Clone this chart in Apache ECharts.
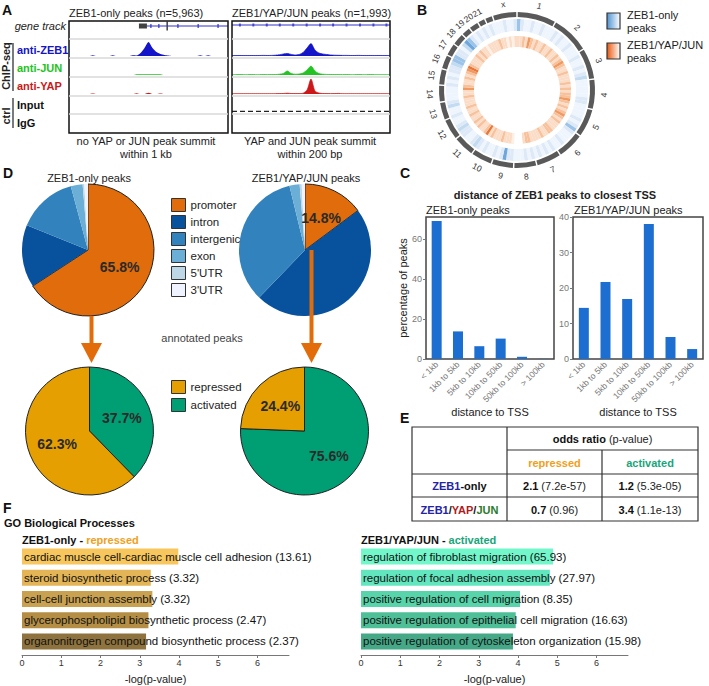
<!DOCTYPE html>
<html><head><meta charset="utf-8">
<script src="https://cdn.jsdelivr.net/npm/echarts@6/dist/echarts.min.js"></script>
<style>html,body{margin:0;padding:0;background:#fff}#c{width:709px;height:686px}</style>
</head><body><div id="c"></div>
<script>
// ================= DATA =================
// Panel A: genome-browser track signals (41 positions per window)
const trackNames = ['anti-ZEB1','anti-JUN','anti-YAP','Input','IgG'];
const zeb1OnlyZEB1 = [0,0,0,0,0,0,0.8,0,0,0,0,0.8,0,0,0,0,0.8,0.6,3,8,14,8,4,2,1,0.5,0,0,0,0,0,0,0,0.8,0,0.8,0,0,0,0,0];
const zeb1OnlyJUN  = [0,0,0,0,0,0,0,0,0,0,0,0,0,0,0,0,0,0.8,0.8,0.8,0.8,0.8,0.8,0.8,0,0,0,0,0,0,0,0,0,0,0,0,0,0,0,0,0];
const zeb1OnlyYAP  = [0,0,0,0,0,0,0.6,0,0,0,0,0,0,0,0,0,0,0.8,0,0,1.2,0,0,0.6,0,0,0,0,0,0,0,0,0,0,0,0,0,0,0,0,0];
const zeb1OnlyInput = [];
const zeb1OnlyIgG = [];
const tripleZEB1 = [0.4,0.4,0.5,0.4,0.4,0.5,0.4,0.5,0.6,0.5,0.6,0.8,1.2,2.0,2.5,1.6,1.0,1.5,3.5,8,12.4,6,3,2,1.5,1.0,0.8,0.7,0.6,0.6,0.5,0.5,0.6,0.5,0.4,0.5,0.4,0.5,0.4,0.4,0.4];
const tripleJUN  = [0.3,0.3,0.4,0.3,0.3,0.4,0.3,0.3,0.4,0.3,0.4,0.5,0.8,1.5,4,1.5,0.8,1.0,2,5,9,4,1.5,0.8,0.6,0.5,0.4,0.4,0.3,0.4,0.3,0.3,0.4,0.3,0.3,0.4,0.3,0.3,0.3,0.3,0.3];
const tripleYAP  = [0.3,0.3,0.3,0.3,0.3,0.3,0.3,0.3,0.3,0.3,0.3,0.3,0.4,0.5,0.8,0.5,0.4,0.4,0.8,4,15,3,1,0.5,0.4,0.3,0.4,0.6,0.3,0.3,0.3,0.3,0.3,0.3,0.3,0.3,0.3,0.3,0.3,0.3,0.3];
const tripleInput = [0.6,0.6,0.6,0.6,0.6,0.6,0.6,0.6,0.6,0.6,0.6,0.6,0.6,0.6,0.6,0.6,0.6,0.6,0.6,0.8,1.0,0.8,0.6,0.6,0.6,0.6,0.6,0.6,0.6,0.6,0.6,0.6,0.6,0.6,0.6,0.6,0.6,0.6,0.6,0.6,0.6];
const tripleIgG = [];
const gene1Body = [[19.6,1],[40,1]];
const gene1Exons = [[18.6,1]];
const gene1Marks = [[20.6,1],[22.6,1],[27.4,1],[32.5,1],[37.5,1]];
const gene1TSS = [[24.7,1]];
const gene2Body = [[0,1],[40,1]];
const gene2Marks = [[2,1],[5.4,1],[8.8,1],[12.1,1],[15.5,1],[18.9,1],[22.3,1],[25.6,1],[29,1],[32.4,1],[35.8,1],[39.1,1]];

// Panel B: circos
const chromNames = ['1','2','3','4','5','6','7','8','9','10','11','12','13','14','15','16','17','18','19','20','21','22','x'];
const chromLengthsMb = [249,243,198,191,181,171,159,146,141,136,135,134,115,107,103,90,81,78,59,63,48,51,155];
const zeb1OnlyDensity = [4,2,1,1,2,1,1,2,1,1, 1,2,1,2,1,1,2,1,1,1, 2,1,1,2,1,2,3,1,1,1, 1,1,2,2,1,1,1,1,2,1, 2,4,2,1,1,1,2,1,1,2, 1,2,1,2,1,2,1,2,1,1, 1,2,2,5,2,1,2,1,1,2, 1,2,3,2,1,1,2,2,3,2, 1,1,2,1,1,3,2,1,1,1, 1,2,1,2,1,2,2,3,4,4, 2,2,1,3,5,4,2,1,2,1, 2,1,2,1,1,1,2,1,1,2];
const zeb1YapJunDensity = [2,2,3,2,4,3,2,3,2,2, 3,2,2,3,2,2,3,2,3,4, 3,2,2,3,2,2,2,3,2,3, 2,3,3,4,3,2,3,2,3,4, 3,2,3,2,2,2,3,3,2,2, 3,2,2,2,2,3,3,2,0,0, 0,1,2,2,2,3,2,2,2,3, 2,5,3,2,2,3,2,3,2,2, 3,2,2,3,2,2,2,3,2,2, 4,3,2,2,3,2,3,4,5,3, 2,2,2,3,2,3,2,2,1,2, 2,2,2,3,2,2,1,2,1,2];

// Panel C: distance to TSS (% of peaks)
const tssCategories = ['< 1kb','1kb to 5kb','5kb to 10kb','10kb to 50kb','50kb to 100kb','> 100kb'];
const tssZeb1Only = [69.0, 13.8, 6.4, 10.2, 1.1, 0.1];
const tssZeb1YapJun = [14.4, 21.7, 16.9, 38.0, 6.2, 2.8];

// Panel D: annotation pies
const annotCategories = ['promoter','intron','intergenic','exon',"5'UTR","3'UTR"];
const annotZeb1Only = [65.8, 15.3, 14.7, 2.9, 0.4, 0.9];
const annotZeb1YapJun = [14.8, 47.4, 34.0, 2.5, 0.5, 0.8];
const regCategories = ['activated','repressed'];
const regZeb1Only = [37.7, 62.3];
const regZeb1YapJun = [75.6, 24.4];

// Panel E: odds ratios
const oddsRatio = [[2.1, 1.2],[0.7, 3.4]];
const oddsPValue = [['7.2e-57','5.3e-05'],['0.96','1.1e-13']];

// Panel F: GO terms
const goRepTerms = ['cardiac muscle cell-cardiac muscle cell adhesion','steroid biosynthetic process','cell-cell junction assembly','glycerophospholipid biosynthetic process','organonitrogen compound biosynthetic process'];
const goRepLogP = [3.98, 3.28, 3.32, 3.22, 3.16];
const goRepEnrich = ['13.61','3.32','3.32','2.47','2.37'];
const goActTerms = ['regulation of fibroblast migration','regulation of focal adhesion assembly','positive regulation of cell migration','positive regulation of epithelial cell migration','positive regulation of cytoskeleton organization'];
const goActLogP = [4.89, 4.81, 4.05, 3.94, 3.87];
const goActEnrich = ['65.93','27.97','8.35','16.63','15.98'];

// ================= STYLE / LAYOUT =================
const FF = 'Liberation Sans, Arial, Helvetica, sans-serif';
const trackColors = ['#1414c8','#22c322','#cc1818','#111111','#111111'];
const annotColors = ['#e06c0b','#08519c','#3182bd','#6baed6','#bdd7e7','#eff3ff'];
const regColors = {activated:'#009e73', repressed:'#e69f00'};
const blueShades = ['#ffffff','#eef5fc','#dde9f7','#c3dbf1','#9cc3e8','#6fa7dc'];
const orangeShades = ['#ffffff','#fdf0e6','#fbdcc6','#f7c19c','#f09a62','#e8783a'];
const goRepColors = ['#f7c65c','#e3b556','#c9a251','#b48e45','#8e733e'];
const goActColors = ['#72f7cb','#62e6be','#57d4a9','#4ebf97','#45a887'];

const grids=[], xAxes=[], yAxes=[], series=[], graphics=[];
function addGrid(g,x,y){ grids.push(Object.assign({outerBoundsMode:'none', containLabel:false}, g)); const i=grids.length-1; xAxes.push(Object.assign({gridIndex:i},x)); yAxes.push(Object.assign({gridIndex:i},y)); return i; }
function T(text,x,y,o){ o=o||{}; const st={text:text, x:0, y:0, fill:o.color||'#222', fontSize:o.size||11, fontWeight:o.weight||'normal', fontStyle:o.style||'normal', fontFamily:FF, align:o.align||'left', textAlign:o.align||'left', verticalAlign:'middle', textVerticalAlign:'middle'}; if(o.rich) st.rich=o.rich; return {type:'text', x:x, y:y, rotation:o.rot||0, z:100, silent:true, style:st}; }
function L(x1,y1,x2,y2,c,w){ return {type:'line', z:100, silent:true, shape:{x1:x1,y1:y1,x2:x2,y2:y2}, style:{stroke:c||'#333', lineWidth:w||1}}; }
function R(x,y,w,h,fill,stroke,lw){ return {type:'rect', z:90, silent:true, shape:{x:x,y:y,width:w,height:h}, style:{fill:fill||'none', stroke:stroke||'none', lineWidth:lw||1}}; }

// ---------- Panel A ----------
const boxes = [
  {left:69, width:159, baseline:false, tracks:[zeb1OnlyZEB1, zeb1OnlyJUN, zeb1OnlyYAP, zeb1OnlyInput, zeb1OnlyIgG]},
  {left:232, width:158, baseline:true, tracks:[tripleZEB1, tripleJUN, tripleYAP, tripleInput, tripleIgG]}
];
const rowTop=[39,58,77,96,114], rowBot=[58,77,96,114,133];
boxes.forEach(function(b){
  b.tracks.forEach(function(arr,ti){
    if(!arr.length) return;
    const gi=addGrid({left:b.left, width:b.width, top:rowTop[ti]+1, height:rowBot[ti]-rowTop[ti]-3},
      {type:'value', min:0, max:40, show:false}, {type:'value', min:0, max:16, show:false});
    const d=arr.map(function(v,i){return [i,v];});
    if(ti===3){
      series.push({type:'line', xAxisIndex:gi, yAxisIndex:gi, data:d, showSymbol:false, silent:true, lineStyle:{color:'#222', width:1.3, type:[5,3]}});
    } else {
      series.push({type:'line', xAxisIndex:gi, yAxisIndex:gi, data:d, showSymbol:false, silent:true, smooth:0.25,
        lineStyle:{width:b.baseline?0.7:0, color:trackColors[ti], opacity:b.baseline?1:0}, areaStyle:{color:trackColors[ti], opacity:1}});
    }
  });
});
// gene tracks
(function(){
  const g1=addGrid({left:69, width:159, top:21, height:10},{type:'value',min:0,max:40,show:false},{type:'value',min:0,max:2,show:false});
  series.push({type:'line', xAxisIndex:g1, yAxisIndex:g1, data:gene1Body, showSymbol:false, silent:true, lineStyle:{color:'#3030c8', width:1}});
  series.push({type:'scatter', xAxisIndex:g1, yAxisIndex:g1, data:gene1Exons, symbol:'rect', symbolSize:[8,5], silent:true, itemStyle:{color:'#111'}});
  series.push({type:'scatter', xAxisIndex:g1, yAxisIndex:g1, data:gene1Marks, symbol:'rect', symbolSize:[1.5,4], silent:true, itemStyle:{color:'#3030d0'}});
  series.push({type:'scatter', xAxisIndex:g1, yAxisIndex:g1, data:gene1TSS, symbol:'rect', symbolSize:[1.5,9], silent:true, itemStyle:{color:'#111'}});
  const g2=addGrid({left:232, width:158, top:20, height:10},{type:'value',min:0,max:40,show:false},{type:'value',min:0,max:2,show:false});
  series.push({type:'line', xAxisIndex:g2, yAxisIndex:g2, data:gene2Body, showSymbol:false, silent:true, lineStyle:{color:'#3030c8', width:1}});
  series.push({type:'scatter', xAxisIndex:g2, yAxisIndex:g2, data:gene2Marks, symbol:'rect', symbolSize:[2,3], silent:true, itemStyle:{color:'#3030d0'}});
})();
graphics.push(T('A',2,10,{size:14,weight:'bold',color:'#111'}));
graphics.push(T('ZEB1-only peaks (n=5,963)',69,13,{}));
graphics.push(T('ZEB1/YAP/JUN peaks (n=1,993)',232,13,{}));
rowTop.forEach(function(y){ graphics.push(L(69,y,228,y,'#d9d9d9',1.5)); graphics.push(L(232,y,390,y,'#d9d9d9',1.5)); });
graphics.push(R(69,21,159,112,'none','#111',1.5));
graphics.push(R(232,21,158,112,'none','#111',1.5));
graphics.push(T('gene track',66,26,{style:'italic',align:'right'}));
const trackLabelY=[50,68,86,105,123];
trackNames.forEach(function(n,i){ graphics.push(T(n,17,trackLabelY[i],{weight:'bold',color:trackColors[i]})); });
graphics.push(T('ChIP-seq',6,66,{weight:'bold',align:'center',rot:Math.PI/2}));
graphics.push(L(13,43,13,91,'#222',1.2));
graphics.push(T('ctrl',6,116,{weight:'bold',align:'center',rot:Math.PI/2}));
graphics.push(L(13,98,13,128,'#222',1.2));
graphics.push(T('no YAP or JUN peak summit',146,141,{align:'center'}));
graphics.push(T('within 1 kb',146,154,{align:'center'}));
graphics.push(T('YAP and JUN peak summit',310,141,{align:'center'}));
graphics.push(T('within 200 bp',310,154,{align:'center'}));

// ---------- Panel B ----------
const bins = zeb1OnlyDensity.map(function(_,i){return i;});
const polarSeriesBase = {type:'bar', coordinateSystem:'polar', stack:'circos', silent:true, barCategoryGap:'0%'};
series.push(Object.assign({}, polarSeriesBase, {data:bins.map(function(){return 43;}), itemStyle:{color:'rgba(0,0,0,0)'}}));
series.push(Object.assign({}, polarSeriesBase, {name:'ZEB1/YAP/JUN peaks', data:zeb1YapJunDensity.map(function(v){return {value:11, itemStyle:{color:orangeShades[v]}};})}));
series.push(Object.assign({}, polarSeriesBase, {data:bins.map(function(){return 5;}), itemStyle:{color:'rgba(0,0,0,0)'}}));
series.push(Object.assign({}, polarSeriesBase, {name:'ZEB1-only peaks', data:zeb1OnlyDensity.map(function(v){return {value:12, itemStyle:{color:blueShades[v]}};})}));
series.push({type:'pie', center:[517,90], radius:[73,78], startAngle:90, clockwise:true, padAngle:1.1, silent:true, label:{show:false}, labelLine:{show:false}, emphasis:{disabled:true},
  data:chromNames.map(function(n,i){return {name:'chr'+n, value:chromLengthsMb[i]};}), itemStyle:{color:'#595959', borderWidth:0}});
series.push({type:'pie', center:[517,90], radius:[77,91], startAngle:90, clockwise:true, silent:true, labelLine:{show:false}, emphasis:{disabled:true},
  label:{show:true, position:'inside', rotate:'tangential', fontSize:8.5, color:'#333', fontFamily:FF, formatter:'{b}'},
  data:chromNames.map(function(n,i){return {name:n, value:chromLengthsMb[i]};}), itemStyle:{color:'rgba(0,0,0,0)', borderWidth:0}});
graphics.push(T('B',417,10,{size:14,weight:'bold',color:'#111'}));
graphics.push({type:'rect', z:100, silent:true, shape:{x:607,y:13,width:13,height:16}, style:{fill:new echarts.graphic.LinearGradient(0,0,1,0,[{offset:0,color:'#4f93d2'},{offset:1,color:'#ffffff'}]), stroke:'#333', lineWidth:1.2}});
graphics.push({type:'rect', z:100, silent:true, shape:{x:607,y:43,width:13,height:16}, style:{fill:new echarts.graphic.LinearGradient(0,0,1,0,[{offset:0,color:'#e8580e'},{offset:1,color:'#ffffff'}]), stroke:'#333', lineWidth:1.2}});
graphics.push(T('ZEB1-only',627,15,{}));
graphics.push(T('peaks',627,28,{}));
graphics.push(T('ZEB1/YAP/JUN',627,45,{}));
graphics.push(T('peaks',627,58,{}));

// ---------- Panel C ----------
function tssGrid(left,width,max,step,data,showName){
  const ticks=[]; for(let v=0; v<=max; v+=step) ticks.push(v);
  const gi=addGrid({left:left, width:width, top:217, height:142, show:true, borderColor:'#444', borderWidth:1.5, backgroundColor:'rgba(0,0,0,0)'},
    {type:'category', data:tssCategories, axisLine:{show:false}, axisTick:{show:false}, splitLine:{show:false},
     axisLabel:{rotate:45, fontSize:8.5, color:'#777', margin:4, fontFamily:FF, interval:0},
     name:'distance to TSS', nameLocation:'middle', nameGap:46, nameTextStyle:{fontSize:11, color:'#222', fontFamily:FF}},
    {type:'value', min:0, max:max, axisLine:{show:false}, splitLine:{show:false},
     axisTick:{show:true, length:3, lineStyle:{color:'#777'}, customValues:ticks},
     axisLabel:{fontSize:9, color:'#777', margin:4, fontFamily:FF, customValues:ticks},
     name: showName?'percentage of peaks':'', nameLocation:'middle', nameGap:17, nameTextStyle:{fontSize:11, color:'#222', fontFamily:FF}});
  series.push({type:'bar', xAxisIndex:gi, yAxisIndex:gi, data:data, barWidth:10, silent:true, itemStyle:{color:'#1c6fd1'}});
}
tssGrid(426,128,71,20,tssZeb1Only,true);
tssGrid(573,130,40,10,tssZeb1YapJun,false);
graphics.push(T('C',400,173,{size:14,weight:'bold',color:'#111'}));
graphics.push(T('distance of ZEB1 peaks to closest TSS',555,195,{weight:'bold',align:'center'}));
graphics.push(T('ZEB1-only peaks',426,210,{}));
graphics.push(T('ZEB1/YAP/JUN peaks',574,210,{}));

// ---------- Panel D ----------
function annotPie(center, values){
  return {type:'pie', center:center, radius:66, startAngle:90, clockwise:true, silent:true, emphasis:{disabled:true}, labelLine:{show:false},
    label:{show:false},
    data:annotCategories.map(function(n,i){
      return {name:n, value:values[i],
        itemStyle: i===0?{color:annotColors[i], borderColor:'#222', borderWidth:1}:{color:annotColors[i], borderWidth:0},
        label: i===0?{show:true, position:'inside', formatter:'{c}%', fontSize:14, fontWeight:'bold', color:'#2a2a2a', fontFamily:FF}:{show:false}};
    })};
}
function regPie(center, values){
  return {type:'pie', center:center, radius:64, startAngle:90, clockwise:true, silent:true, emphasis:{disabled:true}, labelLine:{show:false},
    label:{show:true, position:'inside', formatter:'{c}%', fontSize:14, fontWeight:'bold', color:'#2a2a2a', fontFamily:FF},
    itemStyle:{borderColor:'#222', borderWidth:1},
    data:regCategories.map(function(n,i){ return {name:n, value:values[i], itemStyle:{color:regColors[n]}}; })};
}
series.push(annotPie([88,250], annotZeb1Only));
series.push(annotPie([305,250], annotZeb1YapJun));
series.push(regPie([89.5,431], regZeb1Only));
series.push(regPie([304.5,431], regZeb1YapJun));
graphics.push(T('D',3,173,{size:14,weight:'bold',color:'#111'}));
graphics.push(T('ZEB1-only peaks',89,178,{align:'center'}));
graphics.push(T('ZEB1/YAP/JUN peaks',306,178,{align:'center'}));
graphics.push(T('annotated peaks',202,338,{align:'center',color:'#444'}));
// arrows
const AR='#e36c0a';
graphics.push({type:'rect', z:110, silent:true, shape:{x:89.5,y:316,width:4,height:30}, style:{fill:AR}});
graphics.push({type:'polygon', z:110, silent:true, shape:{points:[[81,343],[102,343],[91.5,363]]}, style:{fill:AR}});
graphics.push({type:'rect', z:110, silent:true, shape:{x:309.5,y:250,width:4,height:96}, style:{fill:AR}});
graphics.push({type:'polygon', z:110, silent:true, shape:{points:[[301,343],[322,343],[311.5,363]]}, style:{fill:AR}});

// ---------- Panel E (table) ----------
graphics.push(T('E',400,418,{size:14,weight:'bold',color:'#111'}));
const tb={x0:412,x1:507,x2:602,x3:698,y0:427,y1:450,y2:474,y3:497,y4:521};
graphics.push(R(tb.x0,tb.y0,tb.x3-tb.x0,tb.y4-tb.y0,'none','#333',1.2));
graphics.push(L(tb.x1,tb.y0,tb.x1,tb.y4,'#333',1.2));
graphics.push(L(tb.x2,tb.y1,tb.x2,tb.y4,'#333',1.2));
graphics.push(L(tb.x1,tb.y1,tb.x3,tb.y1,'#333',1.2));
graphics.push(L(tb.x0,tb.y2,tb.x3,tb.y2,'#333',1.2));
graphics.push(L(tb.x0,tb.y3,tb.x3,tb.y3,'#333',1.2));
function rs(c,w){ return {fill:c, color:c, fontSize:11, fontWeight:w||'normal', fontFamily:FF}; }
graphics.push(T('{b|odds ratio} {n|(p-value)}',(tb.x1+tb.x3)/2,439,{align:'center',rich:{b:rs('#111','bold'),n:rs('#222')}}));
graphics.push(T('repressed',(tb.x1+tb.x2)/2,463,{align:'center',weight:'bold',color:'#f0a020'}));
graphics.push(T('activated',(tb.x2+tb.x3)/2,463,{align:'center',weight:'bold',color:'#17a57a'}));
const rowLabelRich={z:rs('#2323a8','bold'),k:rs('#111','bold'),y:rs('#b01c1c','bold'),j:rs('#2b7a2b','bold')};
const rowLabels=['{z|ZEB1}{k|-only}','{z|ZEB1}{k|/}{y|YAP}{k|/}{j|JUN}'];
const rowY=[486,510];
rowLabels.forEach(function(t,r){
  graphics.push(T(t,(tb.x0+tb.x1)/2,rowY[r],{align:'center',rich:rowLabelRich}));
  [0,1].forEach(function(c){
    const cx = c===0?(tb.x1+tb.x2)/2:(tb.x2+tb.x3)/2;
    graphics.push(T('{b|'+oddsRatio[r][c].toFixed(1)+'} {n|('+oddsPValue[r][c]+')}',cx,rowY[r],{align:'center',rich:{b:rs('#111','bold'),n:rs('#222')}}));
  });
});

// ---------- Panel F ----------
function goGrid(left, terms, vals, enrich, colors){
  const ticks=[0,1,2,3,4,5,6];
  const gi=addGrid({left:left, width:267, top:546, height:106},
    {type:'value', min:0, max:6.8, position:'bottom', offset:3,
     axisLine:{show:true, lineStyle:{color:'#777', width:1}},
     axisTick:{show:true, length:3, lineStyle:{color:'#777'}, customValues:ticks},
     axisLabel:{fontSize:9, color:'#333', margin:3, fontFamily:FF, customValues:ticks},
     splitLine:{show:false},
     name:'-log(p-value)', nameLocation:'middle', nameGap:18, nameTextStyle:{fontSize:11, color:'#222', fontFamily:FF}},
    {type:'category', data:terms, inverse:true, show:false});
  series.push({type:'bar', xAxisIndex:gi, yAxisIndex:gi, barWidth:16, silent:true,
    data:vals.map(function(v,i){ return {value:v, itemStyle:{color:colors[i]}}; }),
    label:{show:true, position:'insideLeft', distance:2, color:'#111', fontSize:11.5, fontFamily:FF,
      formatter:function(p){ return p.name+' ('+enrich[p.dataIndex]+')'; }}});
}
goGrid(22, goRepTerms, goRepLogP, goRepEnrich, goRepColors);
goGrid(361, goActTerms, goActLogP, goActEnrich, goActColors);
graphics.push(T('F',3,508,{size:14,weight:'bold',color:'#111'}));
graphics.push(T('GO Biological Processes',4,523,{weight:'bold',color:'#111'}));
graphics.push(T('{k|ZEB1-only - }{r|repressed}',22,540,{rich:{k:rs('#111','bold'),r:rs('#f0a020','bold')}}));
graphics.push(T('{k|ZEB1/YAP/JUN - }{a|activated}',361,540,{rich:{k:rs('#111','bold'),a:rs('#17a57a','bold')}}));

// ================= CHART =================
const chart = echarts.init(document.getElementById('c'), null, {renderer:'svg', width:709, height:686});
chart.setOption({
  animation:false,
  backgroundColor:'#ffffff',
  textStyle:{fontFamily:FF},
  grid:grids, xAxis:xAxes, yAxis:yAxes,
  polar:{center:[517,90], radius:78},
  angleAxis:{type:'category', data:bins, startAngle:90, clockwise:true, show:false, boundaryGap:true},
  radiusAxis:{type:'value', min:0, max:78, show:false},
  legend:[
    {data:annotCategories, orient:'vertical', left:166, top:193, itemWidth:14, itemHeight:13, itemGap:3, icon:'rect', selectedMode:false,
     itemStyle:{borderColor:'#333', borderWidth:1}, textStyle:{fontSize:11.5, color:'#222', fontFamily:FF}},
    {data:['repressed','activated'], orient:'vertical', left:166, top:375, itemWidth:14, itemHeight:13, itemGap:4, icon:'rect', selectedMode:false,
     itemStyle:{borderColor:'#333', borderWidth:1}, textStyle:{fontSize:11.5, color:'#222', fontFamily:FF}}
  ],
  series:series,
  graphic:{elements:graphics}
});
</script>
</body></html>
